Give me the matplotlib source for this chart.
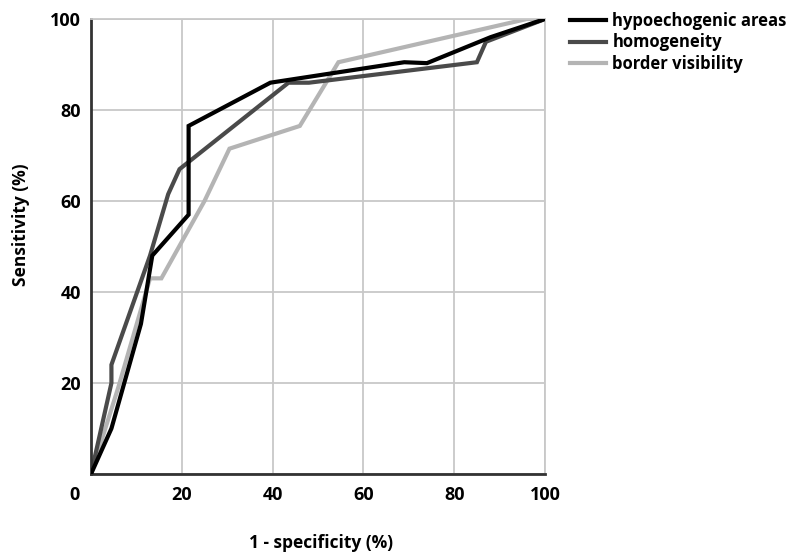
import matplotlib.pyplot as plt
from matplotlib.transforms import ScaledTranslation

# ROC curves
hypo_x = [0, 4.5, 11, 13.5, 21.5, 21.5, 39.5, 69, 74, 88, 100]
hypo_y = [0, 10, 33, 48, 57, 76.5, 86, 90.5, 90.3, 96, 100]

homo_x = [0, 4.5, 4.5, 13, 17, 19.5, 43.5, 48, 85, 87, 100]
homo_y = [0, 20, 24, 48, 61.5, 67, 86, 86, 90.5, 95, 100]

border_x = [0, 6, 13, 15.5, 25, 30.5, 46, 54.5, 96, 100]
border_y = [0, 19, 43, 43, 60, 71.5, 76.5, 90.5, 100, 100]

ticks = [0, 20, 40, 60, 80, 100]
xtick_labels = ["0", "20", "40", "60", "80", "100"]
ytick_labels = ["", "20", "40", "60", "80", "100"]

plt.rcParams['font.family'] = ['Open Sans', 'DejaVu Sans']

fig = plt.figure(figsize=(7.92, 5.52), dpi=100)
ax = fig.add_axes([91 / 792, 78 / 552, 454 / 792, 455 / 552])

ax.plot(hypo_x, hypo_y, color='#000000', lw=3, label='hypoechogenic areas', zorder=3, solid_joinstyle='miter')
ax.plot(homo_x, homo_y, color='#4a4a4a', lw=3, label='homogeneity', zorder=2, solid_joinstyle='miter')
ax.plot(border_x, border_y, color='#b4b4b4', lw=3, label='border visibility', zorder=1, solid_joinstyle='miter')

ax.set_xlim(0, 100)
ax.set_ylim(0, 100)
ax.set_xticks(ticks)
ax.set_yticks(ticks)
ax.set_xticklabels(xtick_labels, fontweight='bold', fontsize=13)
ax.set_yticklabels(ytick_labels, fontweight='bold', fontsize=13)
ax.tick_params(axis='both', length=0)
ax.tick_params(axis='x', pad=9)
ax.tick_params(axis='y', pad=7)

# origin label sits left of the corner
lab0 = ax.get_xticklabels()[0]
lab0.set_transform(lab0.get_transform() + ScaledTranslation(-16 / 100, 0, fig.dpi_scale_trans))

ax.grid(True, color='#c8c8c8', lw=1.3)
ax.set_axisbelow(True)
for s in ['top', 'right']:
    ax.spines[s].set_color('#c8c8c8')
    ax.spines[s].set_linewidth(1.3)
for s in ['left', 'bottom']:
    ax.spines[s].set_color('#333333')
    ax.spines[s].set_linewidth(2)

ax.set_xlabel('1 - specificity (%)', fontweight='bold', fontsize=12.5)
ax.set_ylabel('Sensitivity (%)', fontweight='bold', fontsize=12.5)
ax.xaxis.set_label_coords(0.507, -0.132)
ax.yaxis.set_label_coords(-0.135, 0.547)

ax.legend(loc='upper left', bbox_to_anchor=(1.04, 1.03), frameon=False,
          prop={'weight': 'bold', 'size': 12}, handlelength=2.2,
          handletextpad=0.35, labelspacing=0.2, borderaxespad=0)

fig.savefig('out.png', dpi=100)
